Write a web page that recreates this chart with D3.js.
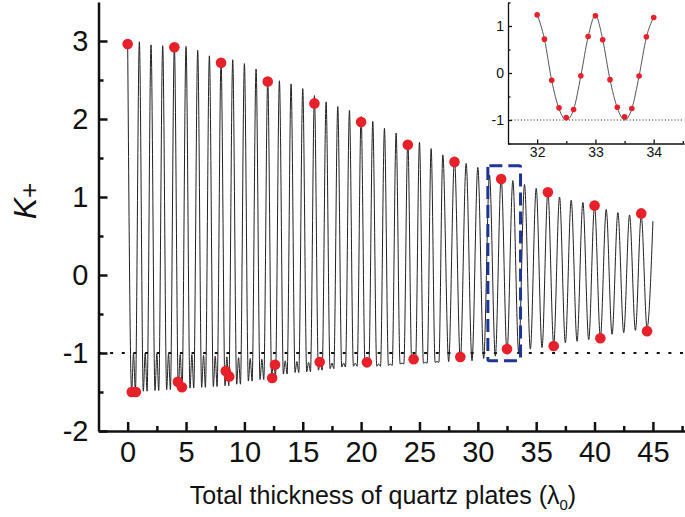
<!DOCTYPE html>
<html><head><meta charset="utf-8">
<script src="https://cdn.jsdelivr.net/npm/d3@7"></script>
<style>
body{margin:0;background:#fff}
svg text{font-family:Arial,"Liberation Sans",Helvetica,sans-serif;fill:#111}
</style>
</head><body>
<svg id="c" width="685" height="517"></svg>
<script>
// ---------------- data ----------------
// thickness (in λ0) of every oscillation peak of the curve
const peakThick = [0,1,2,3,4,5,6,7,8,9,10,11,12,13,14,15,16,17,18,19,20,21,22,23,24,25,26,27,28,29,30,31,32,33,34,35,36,37,38,39,40,41,42,43,44,45];
const peakK = [2.96,2.99,2.95,2.94,2.93,2.93,2.88,2.81,2.74,2.76,2.71,2.64,2.50,2.49,2.45,2.39,2.30,2.22,2.16,2.11,2.03,1.97,1.88,1.82,1.73,1.70,1.62,1.54,1.48,1.43,1.38,1.28,1.25,1.21,1.16,1.11,1.07,1.00,0.96,0.93,0.89,0.84,0.80,0.77,0.76,0.69];
// trough (between peak i and i+1) : lowest value, and the small middle bump (null = single minimum)
const troughMin = [-1.50,-1.49,-1.48,-1.47,-1.46,-1.45,-1.44,-1.43,-1.42,-1.40,-1.36,-1.34,-1.31,-1.27,-1.25,-1.24,-1.22,-1.20,-1.18,-1.17,-1.16,-1.17,-1.16,-1.14,-1.13,-1.13,-1.12,-1.11,-1.10,-1.10,-1.07,-1.04,-1.00,-0.99,-0.95,-0.93,-0.89,-0.87,-0.85,-0.83,-0.80,-0.76,-0.74,-0.71,-0.68];
const troughBump = [-1.00,-1.00,-1.01,-1.01,-1.02,-1.02,-1.03,-1.04,-1.05,-1.06,-1.07,-1.08,-1.09,-1.10,-1.11,-1.12,-1.12,-1.13,-1.13,-1.13,-1.13,-1.14,-1.14,-1.13,-1.12,-1.12,-1.11,null,null,null,null,null,null,null,null,null,null,null,null,null,null,null,null,null,null];
const wHalf = 0.16; // half width of the double minimum

// measured points (red)
const topPtX = [0,4,8,12,16,20,24,28,32,36,40,44];
const topPtK = [2.96,2.92,2.72,2.48,2.20,1.96,1.67,1.45,1.23,1.06,0.89,0.79];
const botPtX = [0.35,0.70,4.30,4.65,8.40,8.70,12.38,12.62,16.45,20.5,24.5,28.5,32.5,36.5,40.5,44.5];
const botPtK = [-1.50,-1.50,-1.37,-1.44,-1.23,-1.30,-1.32,-1.15,-1.115,-1.12,-1.08,-1.05,-0.95,-0.91,-0.81,-0.72];

// inset
const insetX = [32,32.125,32.25,32.375,32.5,32.625,32.75,32.875,33,33.125,33.25,33.375,33.5,33.625,33.75,33.875,34];
const insetPtK = [1.237,0.72,-0.155,-0.742,-0.947,-0.777,-0.057,0.777,1.216,0.707,-0.141,-0.728,-0.933,-0.756,-0.064,0.77,1.18];
const insetLineK = [1.25,0.72,-0.16,-0.76,-1.00,-0.78,-0.06,0.77,1.23,0.71,-0.14,-0.74,-1.00,-0.76,-0.06,0.76,1.19];

// ticks
const xMajor = [0,5,10,15,20,25,30,35,40,45];
const xMinor = [2.5,7.5,12.5,17.5,22.5,27.5,32.5,37.5,42.5,47.5];
const yMajor = [-2,-1,0,1,2,3];
const yMinor = [-1.5,-0.5,0.5,1.5,2.5];
const ixMajor = [32,33,34];
const ixMinor = [32.5,33.5,34.5];
const iyMajor = [-1,0,1];
const iyMinor = [-1.5,-0.5,0.5,1.5];
const refLevel = -1;
const boxX = [30.86,33.66], boxK = [-1.10,1.40];

// ---------------- drawing ----------------
const svg = d3.select("#c");
svg.append("rect").attr("width",685).attr("height",517).attr("fill","#fff");

const x = d3.scaleLinear().domain([-2.5,47.75]).range([98.5,685]);
const y = d3.scaleLinear().domain([-2,3.5]).range([431,2]);

// dotted reference line
svg.append("line").attr("x1",98.5).attr("x2",685).attr("y1",y(refLevel)).attr("y2",y(refLevel))
  .attr("stroke","#111").attr("stroke-width",1.8).attr("stroke-dasharray","3,8.63");

// build curve vertices
const pts = [];
peakThick.forEach((t,i)=>{
  pts.push([t, peakK[i]]);
  if (i < troughMin.length) {
    const c = t + 0.5;
    if (troughBump[i] !== null) {
      pts.push([c - wHalf, troughMin[i]]);
      pts.push([c, troughBump[i]]);
      pts.push([c + wHalf, troughMin[i]]);
    } else pts.push([c, troughMin[i]]);
  }
});
const line = d3.line().x(d=>x(d[0])).y(d=>y(d[1])).curve(d3.curveMonotoneX);
svg.append("path").datum(pts).attr("d",line).attr("fill","none")
  .attr("stroke","#222").attr("stroke-width",1);

// axes
function styleAxis(g, w){
  g.select(".domain").attr("stroke","#111").attr("stroke-width",w);
  g.selectAll(".tick line").attr("stroke","#111").attr("stroke-width",w);
}
const fmt = d => String(d);
const gx = svg.append("g").attr("transform",`translate(0,${y(-2)})`)
  .call(d3.axisBottom(x).tickValues(xMajor).tickSize(-9).tickSizeOuter(0).tickPadding(10).tickFormat(fmt));
styleAxis(gx,2.5);
gx.selectAll("text").attr("font-size",29);
const gxm = svg.append("g").attr("transform",`translate(0,${y(-2)})`)
  .call(d3.axisBottom(x).tickValues(xMinor).tickSize(-5).tickSizeOuter(0).tickFormat(""));
styleAxis(gxm,2.5); gxm.select(".domain").remove();

const gy = svg.append("g").attr("transform",`translate(${x(-2.5)},0)`)
  .call(d3.axisLeft(y).tickValues(yMajor).tickSize(-9).tickSizeOuter(0).tickPadding(10).tickFormat(fmt));
styleAxis(gy,2.5);
gy.selectAll("text").attr("font-size",29);
const gym = svg.append("g").attr("transform",`translate(${x(-2.5)},0)`)
  .call(d3.axisLeft(y).tickValues(yMinor).tickSize(-5).tickSizeOuter(0).tickFormat(""));
styleAxis(gym,2.5); gym.select(".domain").remove();

// axis titles
const xt = svg.append("text").attr("x",383).attr("y",504).attr("text-anchor","middle").attr("font-size",25);
xt.append("tspan").text("Total thickness of quartz plates (λ");
xt.append("tspan").attr("font-size",15).attr("dy",6).text("0");
xt.append("tspan").attr("dy",-6).text(")");

const yt = svg.append("text").attr("transform","translate(36,201) rotate(-90)").attr("text-anchor","middle");
yt.append("tspan").attr("font-size",32).attr("font-style","italic").text("K");
yt.append("tspan").attr("font-size",26).attr("dy",2).text("+");

// blue dashed box
svg.append("rect").attr("x",x(boxX[0])).attr("y",y(boxK[1]))
  .attr("width",x(boxX[1])-x(boxX[0])).attr("height",y(boxK[0])-y(boxK[1]))
  .attr("rx",1.5).attr("fill","none").attr("stroke","#1f3593").attr("stroke-width",3)
  .attr("stroke-dasharray","13,6");

// red points
const red = "#e8202a";
svg.append("g").selectAll("circle").data(topPtX.map((t,i)=>[t,topPtK[i]]).concat(botPtX.map((t,i)=>[t,botPtK[i]])))
  .join("circle").attr("cx",d=>x(d[0])).attr("cy",d=>y(d[1])).attr("r",5.3).attr("fill",red);

// ---------------- inset ----------------
const ix = d3.scaleLinear().domain([31.5,34.52]).range([508,684]);
const iy = d3.scaleLinear().domain([-1.5,1.5]).range([143.5,2.5]);
const ins = svg.append("g");
ins.append("line").attr("x1",508).attr("x2",684).attr("y1",iy(refLevel)).attr("y2",iy(refLevel))
  .attr("stroke","#333").attr("stroke-width",1).attr("stroke-dasharray","1.2,2");
const iline = d3.line().x((d,i)=>ix(insetX[i])).y(d=>iy(d)).curve(d3.curveMonotoneX);
ins.append("path").datum(insetLineK).attr("d",iline).attr("fill","none").attr("stroke","#555").attr("stroke-width",1);

const igx = ins.append("g").attr("transform",`translate(0,${iy(-1.5)})`)
  .call(d3.axisBottom(ix).tickValues(ixMajor).tickSize(-4).tickSizeOuter(0).tickPadding(4).tickFormat(fmt));
styleAxis(igx,1.3); igx.selectAll("text").attr("font-size",14);
const igxm = ins.append("g").attr("transform",`translate(0,${iy(-1.5)})`)
  .call(d3.axisBottom(ix).tickValues(ixMinor).tickSize(-2.5).tickSizeOuter(0).tickFormat(""));
styleAxis(igxm,1.3); igxm.select(".domain").remove();
const igy = ins.append("g").attr("transform",`translate(${ix(31.5)},0)`)
  .call(d3.axisLeft(iy).tickValues(iyMajor).tickSize(-4).tickSizeOuter(0).tickPadding(4).tickFormat(fmt));
styleAxis(igy,1.3); igy.selectAll("text").attr("font-size",14);
const igym = ins.append("g").attr("transform",`translate(${ix(31.5)},0)`)
  .call(d3.axisLeft(iy).tickValues(iyMinor).tickSize(-2.5).tickSizeOuter(0).tickFormat(""));
styleAxis(igym,1.3); igym.select(".domain").remove();

ins.append("g").selectAll("circle").data(insetPtK).join("circle")
  .attr("cx",(d,i)=>ix(insetX[i])).attr("cy",d=>iy(d)).attr("r",2.8).attr("fill",red);
</script>
</body></html>
